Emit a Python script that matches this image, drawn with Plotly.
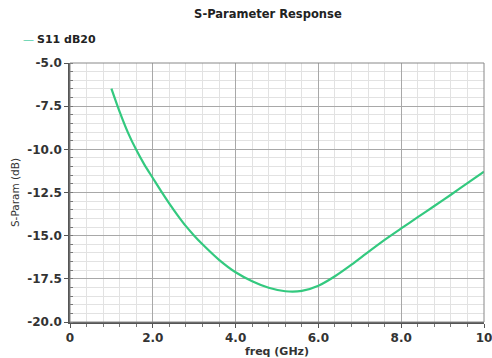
import plotly.graph_objects as go

freq = [1.0, 1.2, 1.4, 1.6, 1.8, 2.0, 2.2, 2.4, 2.6, 2.8, 3.0, 3.2, 3.6, 4.0,
        4.4, 4.8, 5.2, 5.6, 6.0, 6.4, 6.8, 7.2, 7.6, 8.0, 8.4, 8.8, 9.2, 9.6, 10.0]
s11_db20 = [-6.48, -7.83, -9.03, -10.03, -10.9, -11.66, -12.42, -13.14, -13.82,
            -14.45, -15.0, -15.5, -16.4, -17.12, -17.64, -18.02, -18.22, -18.2,
            -17.9, -17.35, -16.68, -15.95, -15.24, -14.58, -13.93, -13.28,
            -12.63, -11.96, -11.3]

x_tickvals = [0, 2, 4, 6, 8, 10]
x_ticktext = ["0", "2.0", "4.0", "6.0", "8.0", "10"]
y_tickvals = [-20, -17.5, -15, -12.5, -10, -7.5, -5]
y_ticktext = ["-20.0", "-17.5", "-15.0", "-12.5", "-10.0", "-7.5", "-5.0"]

line_color = "#33c97f"
font = "DejaVu Sans"

fig = go.Figure()
fig.add_trace(go.Scatter(x=freq, y=s11_db20, mode="lines", name="S11 dB20",
                         line=dict(color=line_color, width=2.2, shape="spline",
                                   smoothing=0.7),
                         showlegend=False))

# legend (drawn as text so the sample line stays short like the original)
fig.add_annotation(xref="paper", yref="paper", x=-0.118, y=1.089, xanchor="left",
                   yanchor="middle", showarrow=False, text="—",
                   font=dict(family=font, size=11, color="#55d0a8"))
fig.add_annotation(xref="paper", yref="paper", x=-0.085, y=1.089, xanchor="left",
                   yanchor="middle", showarrow=False, text="<b>S11 dB20</b>",
                   font=dict(family=font, size=11, color="#222"))

axis_common = dict(showline=True, linecolor="#555", linewidth=1.5, mirror=False,
                   gridcolor="#a8a8a8", gridwidth=1, zeroline=False,
                   automargin=False, ticklabeloverflow="allow",
                   ticks="outside", ticklen=4, tickcolor="#555",
                   tickfont=dict(family=font, size=12, color="#333", weight="bold"))

fig.update_layout(
    width=492, height=358,
    margin=dict(l=70, r=8, t=63, b=36),
    paper_bgcolor="white", plot_bgcolor="white",
    title=dict(text="<b>S-Parameter Response</b>", xref="paper", x=0.478,
               xanchor="center", y=0.961, yanchor="middle",
               font=dict(family=font, size=11.5, color="#222")),
    xaxis=dict(range=[0, 10], tickvals=x_tickvals, ticktext=x_ticktext,
               title=dict(text="<b>freq (GHz)</b>", standoff=0,
                          font=dict(family=font, size=11, color="#333")),
               minor=dict(dtick=0.4, tick0=0, showgrid=True, gridcolor="#e2e2e2",
                          ticks="outside", ticklen=3, tickcolor="#777"),
               **axis_common),
    yaxis=dict(range=[-20, -5], tickvals=y_tickvals, ticktext=y_ticktext,
               title=dict(text="S-Param (dB)", standoff=6,
                          font=dict(family=font, size=10.5, color="#333")),
               minor=dict(dtick=0.5, tick0=0, showgrid=True, gridcolor="#e2e2e2",
                          ticks="inside", ticklen=3, tickcolor="#777"),
               **axis_common),
)
fig.add_shape(type="rect", xref="paper", yref="paper", x0=0, y0=0, x1=1, y1=1,
              line=dict(color="#888", width=1))

fig.write_html("out.html", config={"displayModeBar": False},
               post_script="document.body.style.margin='0';"
                           "document.body.style.overflow='hidden';")
